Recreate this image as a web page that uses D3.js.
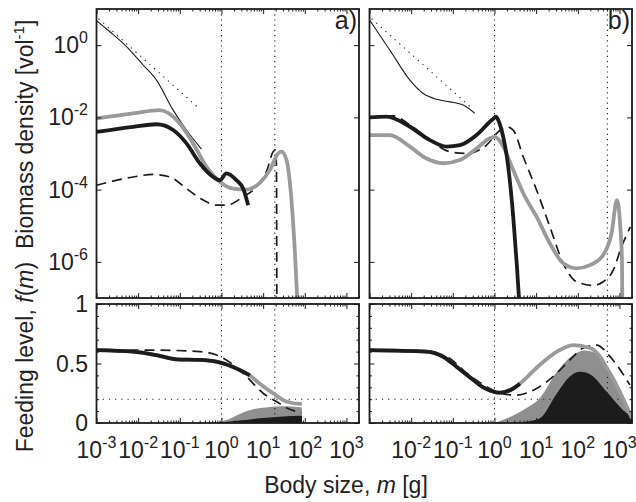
<!DOCTYPE html>
<html>
<head>
<meta charset="utf-8">
<script src="https://cdn.jsdelivr.net/npm/d3@7"></script>
<style>
  body { margin: 0; background: #fff; }
  text { font-family: "Liberation Sans", Arial, sans-serif; fill: #222; }
</style>
</head>
<body>
<svg id="fig" width="636" height="502"></svg>
<script>
// body size given as log10(m [g]), biomass as log10(density), feeding level as is

// reference power law (dotted) - same in both panels
const refX = [-2.95, -0.52];
const refY = [0.73, -1.77];

// panel a, biomass density
const aThinX = [-3.0, -2.68, -2.28, -1.88, -1.56, -1.16, -0.84, -0.48];
const aThinY = [0.68, 0.37, -0.04, -0.55, -0.97, -1.80, -2.35, -2.88];
const aGrayX = [-3.0, -2.12, -1.48, -1.0, -0.68, -0.36, -0.04, 0.28, 0.60, 0.92, 1.16, 1.36, 1.44, 1.56, 1.68, 1.76, 1.82];
const aGrayY = [-2.03, -1.89, -1.80, -2.17, -2.72, -3.37, -3.78, -3.97, -4.0, -3.81, -3.46, -3.0, -2.95, -3.18, -4.29, -5.68, -7.06];
const aBlackX = [-3.0, -2.12, -1.56, -1.16, -0.84, -0.52, -0.2, -0.04, 0.12, 0.36, 0.52, 0.64];
const aBlackY = [-2.40, -2.26, -2.19, -2.35, -2.72, -3.27, -3.65, -3.74, -3.55, -3.74, -3.97, -4.43];
const aDashX = [-3.0, -2.12, -1.64, -1.24, -0.84, -0.44, -0.12, 0.12, 0.52, 0.84, 1.08, 1.24, 1.30, 1.32, 1.33];
const aDashY = [-3.88, -3.65, -3.58, -3.65, -3.97, -4.29, -4.43, -4.43, -4.2, -3.92, -3.5, -2.95, -2.9, -3.4, -8];

// panel b, biomass density
const bThinX = [-2.99, -2.51, -2.03, -1.71, -1.39, -1.07, -0.75, -0.47];
const bThinY = [0.68, -0.14, -0.97, -1.34, -1.50, -1.57, -1.66, -1.89];
const bBlackX = [-3.0, -2.59, -2.03, -1.55, -1.15, -0.83, -0.43, -0.11, -0.03, 0.03, 0.1, 0.17, 0.33, 0.45, 0.54, 0.59];
const bBlackY = [-2.0, -1.98, -2.26, -2.63, -2.81, -2.77, -2.49, -2.12, -2.04, -1.98, -2.1, -2.35, -3.37, -4.75, -6.14, -7.06];
const bGrayX = [-3.0, -2.51, -2.03, -1.63, -1.23, -0.83, -0.43, -0.11, 0.01, 0.21, 0.45, 0.69, 1.01, 1.33, 1.65, 1.97, 2.29, 2.61, 2.81, 2.94, 3.02, 3.06, 3.07];
const bGrayY = [-2.49, -2.49, -2.81, -3.14, -3.27, -3.18, -2.86, -2.58, -2.54, -2.81, -3.46, -4.1, -4.75, -5.49, -6.04, -6.18, -6.09, -5.81, -5.21, -4.29, -5.03, -5.95, -7.2];
const bDashX = [-3.0, -2.43, -2.03, -1.55, -1.07, -0.67, -0.19, 0.09, 0.29, 0.45, 0.69, 1.01, 1.33, 1.65, 1.97, 2.37, 2.61, 2.85, 3.05, 3.26];
const bDashY = [-2.0, -1.96, -2.21, -2.63, -2.95, -3.0, -2.77, -2.40, -2.26, -2.35, -3.09, -4.01, -5.03, -6.04, -6.55, -6.65, -6.55, -6.23, -5.58, -5.03];

// panel a, feeding level
const aFBlackX = [-3.0, -2.12, -1.56, -1.08, -0.52, -0.12, 0.28, 0.68];
const aFBlack = [0.613, 0.60, 0.57, 0.535, 0.53, 0.515, 0.47, 0.40];
const aFGrayX = [-3.0, -2.12, -1.56, -1.08, -0.52, -0.12, 0.28, 0.68, 0.92, 1.24, 1.56, 1.88, 1.93];
const aFGray = [0.613, 0.60, 0.57, 0.535, 0.53, 0.515, 0.47, 0.40, 0.33, 0.25, 0.18, 0.16, 0.16];
const aFDashX = [-3.0, -1.72, -0.52, -0.04, 0.28, 0.60, 1.0, 1.32, 1.64, 1.92];
const aFDash = [0.613, 0.613, 0.60, 0.56, 0.49, 0.39, 0.25, 0.18, 0.115, 0.087];
const aFillGrayX = [-0.2, 0.12, 0.44, 0.76, 1.08, 1.48, 1.93];
const aFillGray = [0.0, 0.025, 0.076, 0.115, 0.13, 0.14, 0.13];
const aFillBlackX = [-0.04, 0.44, 0.92, 1.4, 1.93];
const aFillBlack = [0.005, 0.02, 0.04, 0.053, 0.06];

// panel b, feeding level
const bFBlackX = [-3.0, -1.63, -1.23, -0.91, -0.59, -0.27, 0.01, 0.15, 0.45, 0.61];
const bFBlack = [0.613, 0.60, 0.557, 0.473, 0.384, 0.30, 0.26, 0.255, 0.29, 0.33];
const bFGrayX = [-3.0, -1.63, -1.23, -0.91, -0.59, -0.27, 0.01, 0.15, 0.45, 0.61, 1.09, 1.5, 1.89, 2.29, 2.53, 2.7, 2.85, 3.08, 3.3];
const bFGray = [0.613, 0.60, 0.557, 0.473, 0.384, 0.30, 0.26, 0.255, 0.29, 0.33, 0.49, 0.60, 0.655, 0.63, 0.56, 0.46, 0.37, 0.21, 0.04];
const bFDashX = [-3.0, -1.39, -1.07, -0.75, -0.43, -0.11, 0.29, 0.54, 1.01, 1.5, 1.81, 2.13, 2.45, 2.77, 2.93, 3.25];
const bFDash = [0.613, 0.586, 0.543, 0.445, 0.36, 0.29, 0.24, 0.235, 0.29, 0.42, 0.53, 0.63, 0.655, 0.56, 0.49, 0.32];
const bFillGrayX = [0.0, 0.3, 0.69, 1.09, 1.5, 1.81, 2.17, 2.4, 2.7, 2.85, 3.08, 3.3];
const bFillGray = [0.0, 0.04, 0.11, 0.21, 0.43, 0.55, 0.61, 0.59, 0.46, 0.37, 0.21, 0.04];
const bFillBlackX = [0.4, 0.75, 1.09, 1.5, 1.81, 2.05, 2.29, 2.7, 3.08, 3.3];
const bFillBlack = [0.0, 0.01, 0.04, 0.25, 0.39, 0.43, 0.41, 0.26, 0.11, 0.05];

// dotted guide positions
const aVlines = [0, 1.28];
const bVlines = [0, 2.71];
const fLine = 0.2;

// tick labels
const aXTickExp = ['-3', '-2', '-1', '0', '1', '2', '3'];
const bXTickExp = ['-2', '-1', '0', '1', '2', '3'];
const yTopTickExp = ['0', '-2', '-4', '-6'];
const yLowTicks = ['0', '0.5', '1'];

const lm = v => Math.pow(10, v);
const svg = d3.select('#fig');

const TOP = [9, 298], LOW = [304, 423];
const INK = '#1c1c1c', GRAY = '#9a9a9a', FILLGRAY = '#8f8f8f';

const panels = [
  { id: 'a', x0: 96.5, x1: 359, vl: aVlines, xt: aXTickExp, yLabels: true,
    thin: [aThinX, aThinY], gray: [aGrayX, aGrayY], black: [aBlackX, aBlackY], dash: [aDashX, aDashY],
    fBlack: [aFBlackX, aFBlack], fGray: [aFGrayX, aFGray], fDash: [aFDashX, aFDash],
    fillGray: [aFillGrayX, aFillGray], fillBlack: [aFillBlackX, aFillBlack] },
  { id: 'b', x0: 369.5, x1: 632, vl: bVlines, xt: bXTickExp, yLabels: false,
    thin: [bThinX, bThinY], gray: [bGrayX, bGrayY], black: [bBlackX, bBlackY], dash: [bDashX, bDashY],
    fBlack: [bFBlackX, bFBlack], fGray: [bFGrayX, bFGray], fDash: [bFDashX, bFDash],
    fillGray: [bFillGrayX, bFillGray], fillBlack: [bFillBlackX, bFillBlack] }
];

function pow10(sel, e) {
  sel.append('tspan').text('10');
  sel.append('tspan').attr('dy', -10).style('font-size', '16px').text(e);
}

panels.forEach(p => {
  const x = d3.scaleLog().domain([1e-3, 2000]).range([p.x0, p.x1]);
  const yT = d3.scaleLog().domain([1e-7, 10]).range([TOP[1], TOP[0]]);
  const yL = d3.scaleLinear().domain([0, 1]).range([LOW[1], LOW[0]]);

  const lineT = d3.line().x(d => x(d[0])).y(d => yT(d[1])).curve(d3.curveMonotoneX);
  const lineL = d3.line().x(d => x(d[0])).y(d => yL(d[1])).curve(d3.curveMonotoneX);
  const areaL = d3.area().x(d => x(d[0])).y0(yL(0)).y1(d => yL(d[1])).curve(d3.curveMonotoneX);
  const ptsT = s => d3.zip(s[0].map(lm), s[1].map(lm));
  const ptsL = s => d3.zip(s[0].map(lm), s[1]);

  // clip paths
  [['T', TOP], ['L', LOW]].forEach(([k, r]) => {
    svg.append('clipPath').attr('id', 'clip' + p.id + k)
      .append('rect').attr('x', p.x0).attr('y', r[0]).attr('width', p.x1 - p.x0).attr('height', r[1] - r[0]);
  });

  // ---- top panel: biomass
  const gT = svg.append('g').attr('clip-path', `url(#clip${p.id}T)`);
  gT.selectAll('line.vl').data(p.vl).enter().append('line')
    .attr('x1', d => x(lm(d))).attr('x2', d => x(lm(d)))
    .attr('y1', TOP[0]).attr('y2', TOP[1])
    .attr('stroke', INK).attr('stroke-width', 1.1).attr('stroke-dasharray', '1.2,4');
  gT.append('path').attr('d', lineT(d3.zip(refX.map(lm), refY.map(lm))))
    .attr('fill', 'none').attr('stroke', INK).attr('stroke-width', 1.1).attr('stroke-dasharray', '1.2,5');
  gT.append('path').attr('d', lineT(ptsT(p.thin)))
    .attr('fill', 'none').attr('stroke', INK).attr('stroke-width', 1.1);
  gT.append('path').attr('d', lineT(ptsT(p.dash)))
    .attr('fill', 'none').attr('stroke', INK).attr('stroke-width', 1.7).attr('stroke-dasharray', '10,6');
  gT.append('path').attr('d', lineT(ptsT(p.gray)))
    .attr('fill', 'none').attr('stroke', GRAY).attr('stroke-width', 3.8);
  gT.append('path').attr('d', lineT(ptsT(p.black)))
    .attr('fill', 'none').attr('stroke', INK).attr('stroke-width', 3.8);

  // ---- lower panel: feeding level
  const gL = svg.append('g').attr('clip-path', `url(#clip${p.id}L)`);
  gL.append('path').attr('d', areaL(ptsL(p.fillGray))).attr('fill', FILLGRAY);
  gL.append('path').attr('d', areaL(ptsL(p.fillBlack))).attr('fill', INK);
  gL.selectAll('line.vl').data(p.vl).enter().append('line')
    .attr('x1', d => x(lm(d))).attr('x2', d => x(lm(d)))
    .attr('y1', LOW[0]).attr('y2', LOW[1])
    .attr('stroke', INK).attr('stroke-width', 1.1).attr('stroke-dasharray', '1.2,4');
  gL.append('line').attr('x1', p.x0).attr('x2', p.x1).attr('y1', yL(fLine)).attr('y2', yL(fLine))
    .attr('stroke', INK).attr('stroke-width', 1.1).attr('stroke-dasharray', '1.2,5');
  gL.append('path').attr('d', lineL(ptsL(p.fDash)))
    .attr('fill', 'none').attr('stroke', INK).attr('stroke-width', 1.7).attr('stroke-dasharray', '10,6');
  gL.append('path').attr('d', lineL(ptsL(p.fGray)))
    .attr('fill', 'none').attr('stroke', GRAY).attr('stroke-width', 3.8);
  gL.append('path').attr('d', lineL(ptsL(p.fBlack)))
    .attr('fill', 'none').attr('stroke', INK).attr('stroke-width', 3.8);

  // ---- ticks (inward, all four sides)
  const xt = x.ticks();
  const xMajor = xt.filter(v => Math.abs(Math.log10(v) - Math.round(Math.log10(v))) < 1e-6);
  const xMinor = xt.filter(v => !xMajor.includes(v));
  const tickG = (axis, tr, vals, size) => {
    const g = svg.append('g').attr('transform', tr)
      .call(axis.tickValues(vals).tickSize(-size).tickFormat(''));
    g.select('.domain').remove();
    g.selectAll('line').attr('stroke', INK);
  };
  [TOP, LOW].forEach(r => {
    tickG(d3.axisBottom(x), `translate(0,${r[1]})`, xMajor, 5);
    tickG(d3.axisBottom(x), `translate(0,${r[1]})`, xMinor, 2.5);
    tickG(d3.axisTop(x), `translate(0,${r[0]})`, xMajor, 5);
    tickG(d3.axisTop(x), `translate(0,${r[0]})`, xMinor, 2.5);
  });
  const yTopVals = yTopTickExp.map(e => lm(+e));
  tickG(d3.axisLeft(yT), `translate(${p.x0},0)`, yTopVals, 5);
  tickG(d3.axisRight(yT), `translate(${p.x1},0)`, yTopVals, 5);
  const yLowMajor = yLowTicks.map(Number);
  const yLowMinor = d3.range(1, 10).map(i => i / 10).filter(v => v !== 0.5);
  tickG(d3.axisLeft(yL), `translate(${p.x0},0)`, yLowMajor, 5);
  tickG(d3.axisRight(yL), `translate(${p.x1},0)`, yLowMajor, 5);
  tickG(d3.axisLeft(yL), `translate(${p.x0},0)`, yLowMinor, 2.5);
  tickG(d3.axisRight(yL), `translate(${p.x1},0)`, yLowMinor, 2.5);

  // frames
  [TOP, LOW].forEach(r => {
    svg.append('rect').attr('x', p.x0).attr('y', r[0]).attr('width', p.x1 - p.x0).attr('height', r[1] - r[0])
      .attr('fill', 'none').attr('stroke', INK).attr('stroke-width', 1.8);
  });

  // x tick labels
  p.xt.forEach(e => {
    const t = svg.append('text').attr('x', x(lm(+e))).attr('y', 458)
      .attr('text-anchor', 'middle').style('font-size', '23px');
    pow10(t, e);
  });

  // y tick labels (left panel only)
  if (p.yLabels) {
    yTopTickExp.forEach(e => {
      const t = svg.append('text').attr('x', 88).attr('y', yT(lm(+e)) + 8)
        .attr('text-anchor', 'end').style('font-size', '23px');
      pow10(t, e);
    });
    yLowTicks.forEach(v => {
      svg.append('text').attr('x', 88).attr('y', yL(+v) + 8)
        .attr('text-anchor', 'end').style('font-size', '23px').text(v);
    });
  }

  // panel letter
  svg.append('text').attr('x', p.x1 - 2).attr('y', 29).attr('text-anchor', 'end')
    .style('font-size', '25px').text(p.id + ')');
});

// axis titles
const xl = svg.append('text').attr('x', 346).attr('y', 493).attr('text-anchor', 'middle').style('font-size', '23px');
xl.append('tspan').text('Body size, ');
xl.append('tspan').style('font-style', 'italic').text('m');
xl.append('tspan').text(' [g]');

const yl = svg.append('text').attr('transform', 'translate(33,236) rotate(-90)')
  .attr('text-anchor', 'middle').style('font-size', '23px');
yl.append('tspan').text('Feeding level, ');
yl.append('tspan').style('font-style', 'italic').text('f');
yl.append('tspan').text('(');
yl.append('tspan').style('font-style', 'italic').text('m');
yl.append('tspan').text(')\u00a0\u00a0Biomass density [vol');
yl.append('tspan').attr('dy', -9).style('font-size', '15px').text('-1');
yl.append('tspan').attr('dy', 9).text(']');
</script>
</body>
</html>
